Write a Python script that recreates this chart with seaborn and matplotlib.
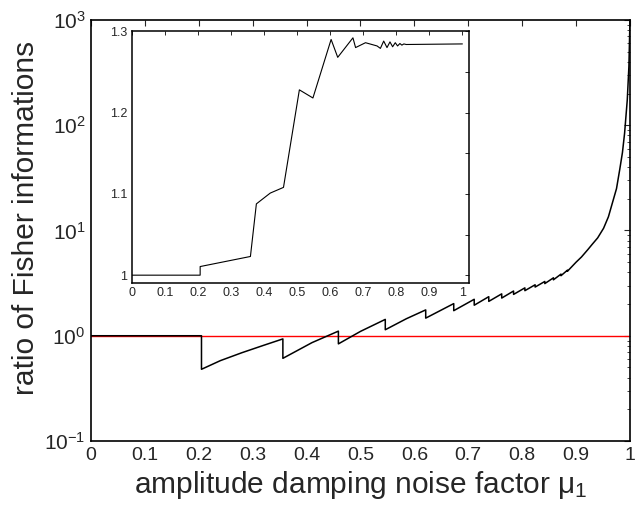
import numpy as np
import pandas as pd
import matplotlib
matplotlib.use("Agg")
import matplotlib.pyplot as plt
import matplotlib.ticker as mticker
import seaborn as sns

sns.set_style("white")
plt.rcParams["font.family"] = ["Liberation Sans", "DejaVu Sans"]
plt.rcParams["mathtext.fontset"] = "custom"
plt.rcParams["mathtext.rm"] = "Liberation Sans"
plt.rcParams["mathtext.it"] = "Liberation Sans:italic"
plt.rcParams["mathtext.default"] = "regular"

# main curve: ratio of Fisher informations vs mu_1
mu_main = [0.0, 0.205, 0.205, 0.24, 0.28, 0.32, 0.356, 0.356, 0.41, 0.459, 0.459, 0.50,
           0.546, 0.546, 0.585, 0.621, 0.621, 0.673, 0.673, 0.711, 0.711,
           0.738, 0.738, 0.762, 0.762, 0.784, 0.784, 0.805, 0.805, 0.824,
           0.824, 0.842, 0.842, 0.858, 0.858, 0.872, 0.872, 0.884, 0.884,
           0.90, 0.91, 0.922, 0.93, 0.94, 0.951, 0.96, 0.967, 0.975, 0.981,
           0.986, 0.990, 0.995, 0.998, 1.0]
ratio_main = [1.0, 1.0, 0.48, 0.58, 0.69, 0.81, 0.933, 0.61, 0.86, 1.106, 0.837, 1.10,
              1.43, 1.14, 1.45, 1.76, 1.47, 2.02, 1.73, 2.22, 1.95,
              2.35, 2.12, 2.50, 2.28, 2.66, 2.47, 2.85, 2.68, 3.05,
              2.90, 3.28, 3.13, 3.55, 3.40, 3.85, 3.72, 4.2, 4.1,
              5.0, 5.6, 6.6, 7.4, 8.5, 10.5, 13.5, 18.0, 25.0, 38.0,
              55.0, 84.0, 175.0, 362.0, 1000.0]

# reference line at ratio = 1
mu_ref = [0.0, 1.0]
ratio_ref = [1.0, 1.0]

# inset curve
mu_inset = [0.0, 0.207, 0.207, 0.359, 0.377, 0.40, 0.419, 0.459, 0.507, 0.548,
            0.603, 0.623, 0.669, 0.677, 0.707, 0.742, 0.752, 0.762, 0.772,
            0.781, 0.789, 0.797, 0.804, 0.811, 0.817, 0.823, 0.83, 1.0]
ratio_inset = [1.0, 1.0, 1.0106, 1.023, 1.0877, 1.095, 1.101, 1.108, 1.228, 1.218,
               1.290, 1.268, 1.292, 1.280, 1.286, 1.282, 1.279, 1.288, 1.280,
               1.287, 1.281, 1.286, 1.282, 1.285, 1.283, 1.2845, 1.2838, 1.2845]

main_ticks = [0, 0.1, 0.2, 0.3, 0.4, 0.5, 0.6, 0.7, 0.8, 0.9, 1.0]
main_ticklabels = ["0", "0.1", "0.2", "0.3", "0.4", "0.5", "0.6", "0.7", "0.8", "0.9", "1"]
inset_yticks = [1.0, 1.1, 1.2, 1.3]
inset_yticklabels = ["1", "1.1", "1.2", "1.3"]

df_main = pd.DataFrame({"mu": mu_main, "ratio": ratio_main})
df_ref = pd.DataFrame({"mu": mu_ref, "ratio": ratio_ref})
df_inset = pd.DataFrame({"mu": mu_inset, "ratio": ratio_inset})

fig = plt.figure(figsize=(6.35, 5.11), dpi=100)
ax = fig.add_axes([0.1433, 0.137, 0.8488, 0.8239])

sns.lineplot(data=df_ref, x="mu", y="ratio", color="red", linewidth=1.0,
             sort=False, estimator=None, ax=ax)
sns.lineplot(data=df_main, x="mu", y="ratio", color="black", linewidth=1.1,
             sort=False, estimator=None, ax=ax)
ax.set_yscale("log")
ax.set_xlim(0, 1)
ax.set_ylim(0.1, 1000)
ax.set_xticks(main_ticks)
ax.set_xticklabels(main_ticklabels)
ax.yaxis.set_major_locator(mticker.LogLocator(base=10, numticks=10))
ax.yaxis.set_minor_locator(mticker.LogLocator(base=10, subs=np.arange(2, 10), numticks=20))
ax.yaxis.set_minor_formatter(mticker.NullFormatter())
ax.tick_params(which="both", direction="in", top=True, right=True, pad=4)
ax.tick_params(axis="x", labelsize=14)
ax.tick_params(axis="y", labelsize=15)
ax.tick_params(which="major", length=4, width=0.8)
ax.tick_params(which="minor", length=2.5, width=0.6)
ax.set_xlabel(r"amplitude damping noise factor $\mu_1$", fontsize=21.5, labelpad=4)
ax.set_ylabel("ratio of Fisher informations", fontsize=21.5)
ax.yaxis.set_label_coords(-0.095, 0.53)
for s in ax.spines.values():
    s.set_linewidth(1.2)
    s.set_color("black")

# inset
axi = fig.add_axes([0.2074, 0.4456, 0.5312, 0.4931])
sns.lineplot(data=df_inset, x="mu", y="ratio", color="black", linewidth=0.8,
             sort=False, estimator=None, ax=axi)
axi.set_xlim(0, 1.02)
axi.set_ylim(0.99, 1.3)
axi.set_xticks(main_ticks)
axi.set_xticklabels(main_ticklabels)
axi.set_yticks(inset_yticks)
axi.set_yticklabels(inset_yticklabels)
axi.yaxis.set_minor_locator(mticker.MultipleLocator(0.05))
axi.tick_params(which="both", direction="in", top=True, right=True, labelsize=9, pad=3)
axi.tick_params(which="major", length=3, width=0.7)
axi.tick_params(which="minor", length=3, width=0.7)
axi.set_xlabel("")
axi.set_ylabel("")
for s in axi.spines.values():
    s.set_linewidth(1.1)
    s.set_color("black")

fig.savefig("out.png", dpi=100)
